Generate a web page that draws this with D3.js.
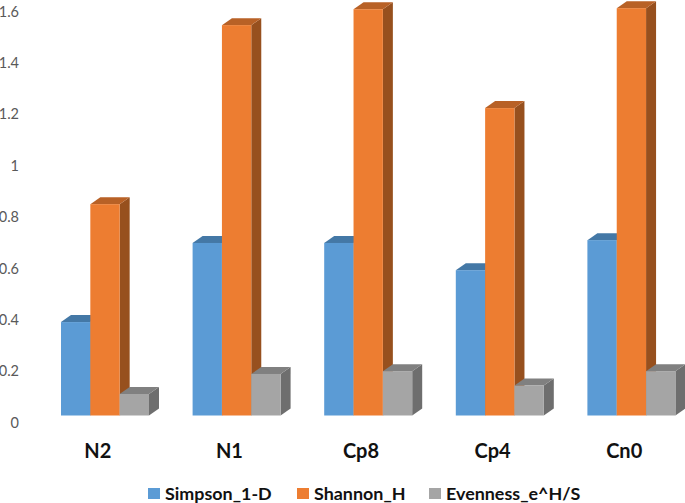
<!DOCTYPE html>
<html><head><meta charset="utf-8">
<script src="https://cdn.jsdelivr.net/npm/d3@7"></script>
<style>html,body{margin:0;padding:0;background:#fff}svg{display:block}text{font-family:Lato,"Open Sans",sans-serif}</style>
</head><body><div id="c"></div>
<script>
const categories = ["N2","N1","Cp8","Cp4","Cn0"];
const seriesNames = ["Simpson_1-D","Shannon_H","Evenness_e^H/S"];
const simpson = [0.389,0.697,0.697,0.591,0.708];
const shannon = [0.848,1.545,1.607,1.222,1.611];
const evenness = [0.109,0.187,0.198,0.142,0.198];
const tickValues = [0,0.2,0.4,0.6,0.8,1,1.2,1.4,1.6];
const frontColors = ["#5b9bd5","#ed7d31","#a5a5a5"];
const topColors = ["#4478a6","#b86126","#808080"];
const sideColors = ["#3d6d98","#97501e","#6e6e6e"];

const W=685,H=503, floorLift=6.5, dx=10, dy=7;
const svg=d3.select("#c").append("svg").attr("width",W).attr("height",H);
const y=d3.scaleLinear().domain([0,1.6]).range([422,11]);
const x0=d3.scaleBand().domain(categories).range([61,61+131.6*5]).paddingInner(0).paddingOuter(0).align(0);
const x1=d3.scaleBand().domain(seriesNames).range([0,88]);
const base=y(0)-floorLift;
const seriesValues=[simpson,shannon,evenness];

const yAxis=d3.axisLeft(y).tickValues(tickValues).tickSize(0).tickPadding(0).tickFormat(d3.format("~g"));
const ga=svg.append("g").attr("transform","translate(19,0)").call(yAxis);
ga.select(".domain").remove();
ga.selectAll("text").attr("fill","#595959").style("font-size","14.5px").style("font-family","Lato,sans-serif").attr("dy","0.36em");

const groups=svg.selectAll("g.cat").data(categories).join("g").attr("class","cat")
  .attr("transform",d=>`translate(${x0(d)},0)`);
// left-most series first: each bar's front covers the side of the one before it
[0,1,2].forEach(s=>{
  groups.each(function(c,i){
    const g=d3.select(this), v=seriesValues[s][i], xl=x1(seriesNames[s]), w=x1.bandwidth(), t=y(v);
    const xr=xl+w;
    g.append("path").attr("fill",sideColors[s])
      .attr("d",`M${xr},${t}L${xr+dx},${t-dy}L${xr+dx},${base-dy}L${xr},${base}Z`);
    g.append("path").attr("fill",topColors[s])
      .attr("d",`M${xl},${t}L${xl+dx},${t-dy}L${xr+dx},${t-dy}L${xr},${t}Z`);
    g.append("rect").attr("x",xl).attr("y",t).attr("width",w).attr("height",base-t).attr("fill",frontColors[s]);
  });
});

const xAxis=d3.axisBottom(x0).tickSize(0).tickPadding(0);
const gx=svg.append("g").attr("transform","translate(-29,451)").call(xAxis);
gx.select(".domain").remove();
gx.selectAll("text").attr("y",0).attr("dy","0.36em").attr("fill","#111").style("font-size","20px").style("font-weight","700").style("font-family","Lato,sans-serif");

const legendX=[148,297,429];
const leg=svg.selectAll("g.leg").data(seriesNames).join("g").attr("class","leg")
  .attr("transform",(d,i)=>`translate(${legendX[i]},488)`);
leg.append("rect").attr("width",12).attr("height",11).attr("fill",(d,i)=>frontColors[i]);
leg.append("text").attr("x",17).attr("y",5.5).attr("dy","0.36em").attr("fill","#111")
  .style("font-size","17.9px").style("font-weight","700").text(d=>d);
</script></body></html>
